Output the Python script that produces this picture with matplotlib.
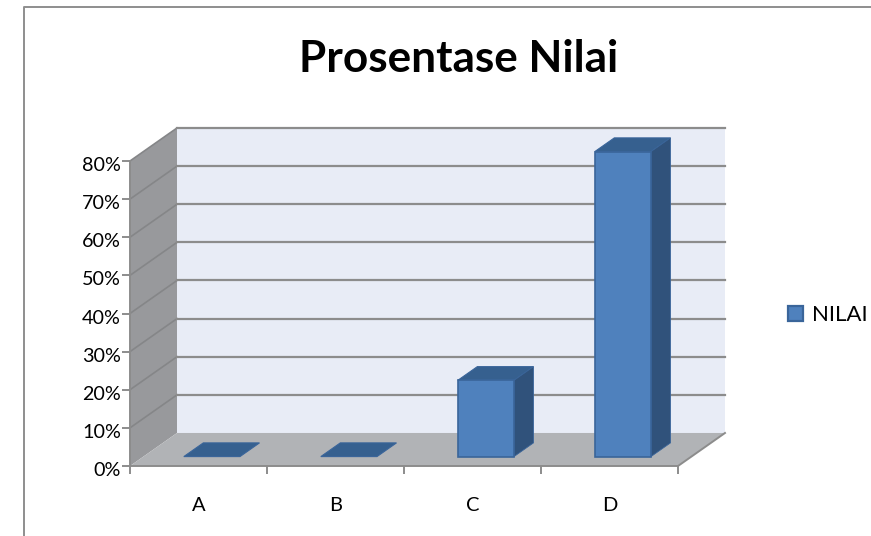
import matplotlib
matplotlib.use('Agg')
import matplotlib.pyplot as plt
from matplotlib.patches import Patch
from matplotlib.transforms import ScaledTranslation

categories = ['A', 'B', 'C', 'D']
nilai = [0, 0, 20, 80]
yticks = [0, 10, 20, 30, 40, 50, 60, 70, 80]
ylabels = ['0%', '10%', '20%', '30%', '40%', '50%', '60%', '70%', '80%']

W, H = 871, 536
# depth of the fake 3d box, in data units
DX = 47 / 137
DY = 33 / 38.1 * 10
GREY = '#8c8c8c'

plt.rcParams['font.family'] = ['Lato', 'DejaVu Sans']


def proj(x, y, d):
    # d = 0 is the front plane, d = 1 the back wall
    return x + DX * d, y + DY * d


def face(ax, pts, color, edge='none', lw=0, z=1):
    xs = [proj(*p)[0] for p in pts]
    ys = [proj(*p)[1] for p in pts]
    ax.fill(xs, ys, facecolor=color, edgecolor=edge, linewidth=lw, zorder=z, clip_on=False)


def bar3d(ax, x, val, width=0.41, d0=0.285, d1=0.70):
    l, r = x - width / 2, x + width / 2
    edge = '#3a659a'
    face(ax, [(l, val, d0), (r, val, d0), (r, val, d1), (l, val, d1)], '#36608f', edge, 0.8, 4)
    if val > 0:
        face(ax, [(r, 0, d0), (r, val, d0), (r, val, d1), (r, 0, d1)], '#30527b', edge, 0.6, 4)
        face(ax, [(l, 0, d0), (r, 0, d0), (r, val, d0), (l, val, d0)], '#4f81bd', edge, 1.2, 5)


fig = plt.figure(figsize=(W / 100, H / 100), dpi=100)
ax = fig.add_axes([130 / W, 1 - 466 / H, 548 / W, 305 / H])
ax.set_xlim(0, 4)
ax.set_ylim(0, 80)
ax.patch.set_visible(False)

# walls and floor
face(ax, [(0, 0, 1), (4, 0, 1), (4, 80, 1), (0, 80, 1)], '#e8ecf6')
face(ax, [(0, 0, 0), (0, 0, 1), (0, 80, 1), (0, 80, 0)], '#98999c')
face(ax, [(0, 0, 0), (4, 0, 0), (4, 0, 1), (0, 0, 1)], '#b1b3b6')

for t in yticks[1:]:
    x0, y0 = proj(0, t, 0)
    x1, y1 = proj(0, t, 1)
    x2, y2 = proj(4, t, 1)
    ax.plot([x0, x1], [y0, y1], color='#858688', lw=1.2, zorder=2, clip_on=False)
    ax.plot([x1, x2], [y1, y2], color=GREY, lw=1.6, zorder=2, clip_on=False)
x1, y1 = proj(4, 0, 0)
x2, y2 = proj(4, 0, 1)
ax.plot([x1, x2], [y1, y2], color=GREY, lw=1.4, zorder=2, clip_on=False)

for i, v in enumerate(nilai):
    bar3d(ax, i + 0.5, v)

for s in ['top', 'right']:
    ax.spines[s].set_visible(False)
for s in ['left', 'bottom']:
    ax.spines[s].set_color(GREY)
    ax.spines[s].set_linewidth(1.4)
    ax.spines[s].set_zorder(3)

ax.set_yticks(yticks)
ax.set_yticklabels(ylabels, fontsize=14.2, color='black')
ax.set_xticks(range(len(categories) + 1))
ax.set_xticklabels([])
ax.set_xticks([i + 0.5 for i in range(len(categories))], minor=True)
ax.set_xticklabels(categories, minor=True, fontsize=14.5)
ax.tick_params(axis='y', length=6, width=1.4, color=GREY, pad=0.5)
ax.tick_params(axis='x', which='major', length=6, width=1.4, color=GREY)
ax.tick_params(axis='x', which='minor', length=0, pad=22)

# the percent labels sit a little under their ticks
for lab in ax.get_yticklabels():
    lab.set_transform(lab.get_transform() + ScaledTranslation(0, -3 / 100, fig.dpi_scale_trans))

fig.text(459 / W, 1 - 59 / H, 'Prosentase Nilai', fontsize=31.8, fontweight='bold',
         ha='center', va='center')

handle = Patch(facecolor='#4f81bd', edgecolor='#3a659a', linewidth=1.6, label='NILAI')
fig.legend(handles=[handle], loc='center left', bbox_to_anchor=(770 / W, 1 - 315 / H),
           frameon=False, fontsize=16, handlelength=0.68, handleheight=0.68,
           handletextpad=0.4, borderpad=0.3)

# chart frame, only top and left fall inside the crop
fig.add_artist(plt.Line2D([24 / W, 24 / W, 1], [0, 1 - 7 / H, 1 - 7 / H], color='#8e8e8e', lw=1.4))

plt.savefig('out.png', dpi=100)
